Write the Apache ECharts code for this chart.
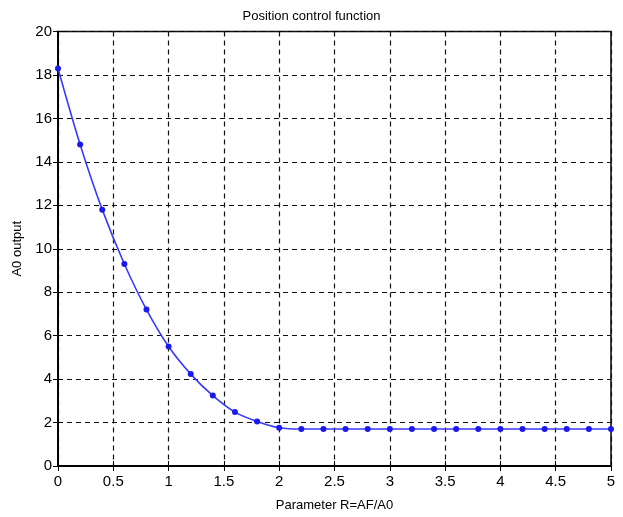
<!DOCTYPE html>
<html><head><meta charset="utf-8">
<script src="https://cdn.jsdelivr.net/npm/echarts@6/dist/echarts.min.js"></script>
<style>html,body{margin:0;padding:0;background:#fff}#c{width:623px;height:517px}</style>
</head><body><div id="c"></div>
<script>
const xValues = [0,0.2,0.4,0.6,0.8,1.0,1.2,1.4,1.6,1.8,2.0,2.2,2.4,2.6,2.8,3.0,3.2,3.4,3.6,3.8,4.0,4.2,4.4,4.6,4.8,5.0];
const yValues = [18.3,14.8,11.8,9.3,7.2,5.5,4.23,3.24,2.48,2.05,1.76,1.7,1.7,1.7,1.7,1.7,1.7,1.7,1.7,1.7,1.7,1.7,1.7,1.7,1.7,1.7];
const titleText = 'Position control function';
const xLabel = 'Parameter R=AF/A0';
const yLabel = 'A0 output';

const data = xValues.map((x,i)=>[x,yValues[i]]);
const chart = echarts.init(document.getElementById('c'));
const font = 'Liberation Sans, Arial, sans-serif';
const gridLine = {show:true, lineStyle:{color:'#111', type:[5,4], width:1.2}};
chart.setOption({
  animation:false,
  title:{text:titleText, left:'center', top:5, textStyle:{fontSize:13, fontWeight:'normal', color:'#000', fontFamily:font}},
  grid:{left:58, right:12, top:31.5, bottom:48.5, show:true, borderColor:'#000', borderWidth:1.5},
  xAxis:[{type:'value', min:0, max:5, interval:0.5, name:xLabel, nameLocation:'middle', nameGap:33,
    nameTextStyle:{fontSize:13, color:'#000', fontFamily:font},
    axisLine:{lineStyle:{color:'#000', width:1.5}}, axisTick:{inside:true, length:5, lineStyle:{color:'#000'}},
    axisLabel:{fontSize:15, color:'#000', fontFamily:font, margin:8}, splitLine:gridLine},
    {type:'value', position:'top', min:0, max:5, interval:0.5, axisLine:{lineStyle:{color:'#000', width:1.5}},
    axisTick:{inside:true, length:5, lineStyle:{color:'#000'}}, axisLabel:{show:false}, splitLine:{show:false}}],
  yAxis:[{type:'value', min:0, max:20, interval:2, name:yLabel, nameLocation:'middle', nameGap:29,
    nameTextStyle:{fontSize:13, color:'#000', fontFamily:font},
    axisLine:{lineStyle:{color:'#000', width:1.5}}, axisTick:{inside:true, length:5, lineStyle:{color:'#000'}},
    axisLabel:{fontSize:15, color:'#000', fontFamily:font, margin:6}, splitLine:gridLine},
    {type:'value', position:'right', min:0, max:20, interval:2, axisLine:{lineStyle:{color:'#000', width:1.5}},
    axisTick:{inside:true, length:5, lineStyle:{color:'#000'}}, axisLabel:{show:false}, splitLine:{show:false}}],
  series:[{type:'line', data:data, smooth:0.3, symbol:'circle', symbolSize:6,
    lineStyle:{color:'#3a3aff', width:1.6}, itemStyle:{color:'#1a1aee'}}]
});
</script></body></html>
